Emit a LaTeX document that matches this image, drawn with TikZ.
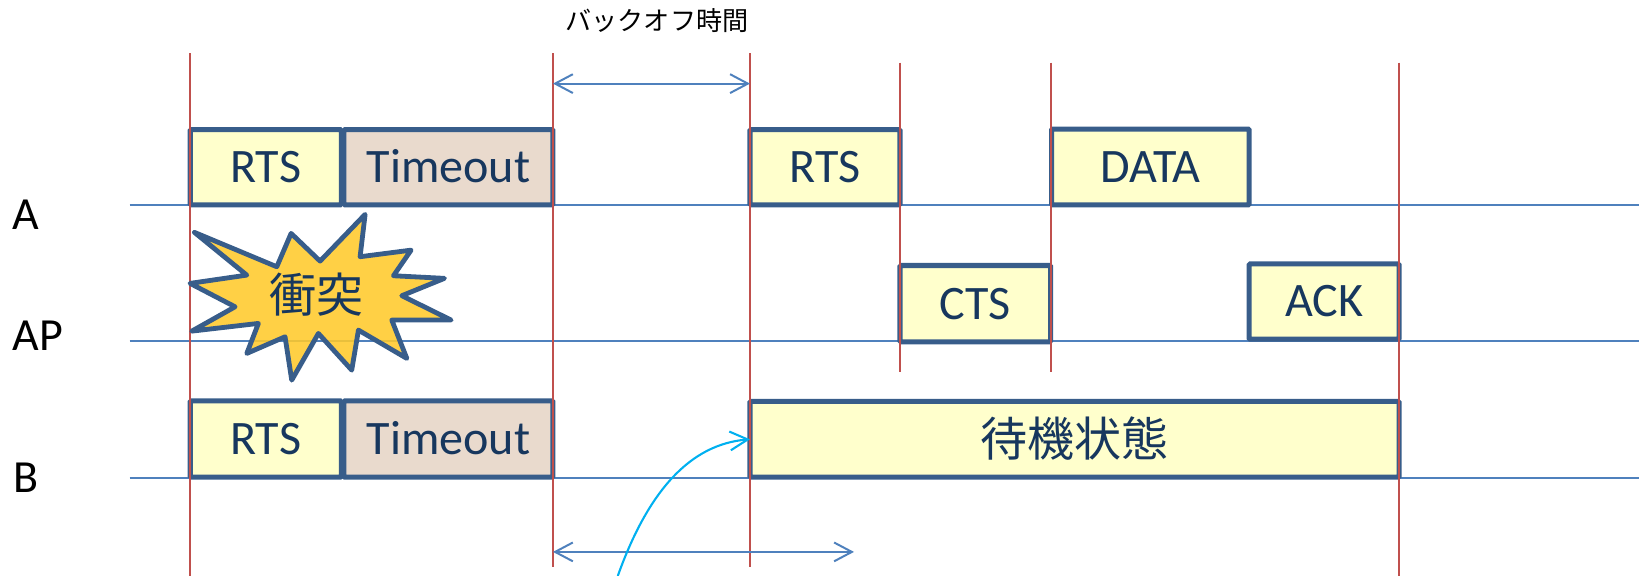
\documentclass[tikz,border=0pt]{standalone}
\usepackage{fontspec}
\setmainfont{Carlito}
\newfontfamily\jpfont{Noto Sans CJK JP}
\usetikzlibrary{arrows.meta}
\definecolor{vred}{HTML}{C0504D}
\definecolor{tblue}{HTML}{4F81BD}
\definecolor{boxblue}{HTML}{385D8A}
\definecolor{textnavy}{HTML}{17375E}
\definecolor{paleyellow}{HTML}{FFFFCC}
\definecolor{paletan}{HTML}{E9DACD}
\definecolor{stargold}{HTML}{FFC92B}
\definecolor{curvecyan}{HTML}{00B0F0}
\begin{document}
\begin{tikzpicture}[x=1pt,y=-1pt,
  redline/.style={draw=vred, line width=1.8pt},
  tline/.style={draw=tblue, line width=1.9pt},
  lbl/.style={anchor=west, inner sep=0pt, text=black, font=\fontsize{44}{48}\selectfont},
  box/.style={draw=boxblue, line width=4.8pt, rounded corners=1pt, text=textnavy,
    font=\fontsize{46}{50}\selectfont, inner sep=0pt, outer sep=0pt,
    text height=29.5pt, text depth=0pt, anchor=north west},
  ybox/.style={box, fill=paleyellow},
  tbox/.style={box, fill=paletan},
  starshape/.style={draw=boxblue, line width=4.6pt, line join=round, fill=stargold, fill opacity=0.88},
  jptext/.style={inner sep=0pt, text=textnavy, font=\jpfont\fontsize{45}{50}\selectfont},
  dbl/.style={draw=tblue, line width=1.9pt,
    {Straight Barb[length=17pt,width=18pt]}-{Straight Barb[length=17pt,width=18pt]}},
  curved/.style={draw=curvecyan, line width=2pt, -{Straight Barb[length=17pt,width=18pt]}}
]
\useasboundingbox (0,0) rectangle (1568,551);

% timelines
\coordinate (As) at (124,196);   \coordinate (Ae) at (1568,196);
\coordinate (APs) at (124,326);  \coordinate (APe) at (1568,326);
\coordinate (Bs) at (124,457);   \coordinate (Be) at (1568,457);
\draw[tline] (As) -- (Ae);
\draw[tline] (APs) -- (APe);
\draw[tline] (Bs) -- (Be);

% labels
\node[lbl] (lA) at (12,205) {A};
\node[lbl] (lAP) at (12,321.5) {AP};
\node[lbl] (lB) at (13,457) {B};

% boxes row A
\node[ybox, minimum width=144.5pt, minimum height=72pt] (aRTS) at (182,124) {RTS};
\node[tbox, minimum width=200pt, minimum height=72pt] (aTO) at (329,124) {Timeout};
\node[ybox, minimum width=143.5pt, minimum height=72pt] (aRTS2) at (717.5,124) {RTS};
\node[ybox, minimum width=189pt, minimum height=72.5pt] (aDATA) at (1006,123.5) {DATA};
% row AP
\node[ybox, minimum width=144pt, minimum height=73pt] (apCTS) at (861,254) {CTS};
\node[ybox, minimum width=143.5pt, minimum height=72pt] (apACK) at (1195,252.5) {ACK};
% row B
\node[ybox, minimum width=144.5pt, minimum height=73pt] (bRTS) at (182,383.5) {RTS};
\node[tbox, minimum width=200pt, minimum height=73pt] (bTO) at (329,383.5) {Timeout};
\node[ybox, minimum width=621pt, minimum height=72.5pt, text height=33pt,
  font=\jpfont\fontsize{45}{50}\selectfont] (bWait) at (717.5,384) {待機状態};

% red vertical lines
\coordinate (r1t) at (182,51);    \coordinate (r1b) at (182,551);
\coordinate (r2t) at (529,51);    \coordinate (r2b) at (529,542);
\coordinate (r3t) at (717.5,51);  \coordinate (r3b) at (717.5,542);
\coordinate (r4t) at (861,60);    \coordinate (r4b) at (861,356);
\coordinate (r5t) at (1005.5,60); \coordinate (r5b) at (1005.5,356);
\coordinate (r6t) at (1338.5,60); \coordinate (r6b) at (1338.5,551);
\draw[redline] (r1t) -- (r1b);
\draw[redline] (r2t) -- (r2b);
\draw[redline] (r3t) -- (r3b);
\draw[redline] (r4t) -- (r4b);
\draw[redline] (r5t) -- (r5b);
\draw[redline] (r6t) -- (r6b);

% collision star
\draw[starshape] (186.0,222.3) -- (264.8,255.2) -- (278.5,223.3) -- (306.2,249.8)
  -- (349.3,205.1) -- (344.5,245.6) -- (393.3,239.3) -- (376.4,263.8)
  -- (425.2,266.3) -- (384.4,282.9) -- (431.6,306.2) -- (374.8,306.2)
  -- (389.2,342.9) -- (342.9,315.8) -- (336.5,354.1) -- (304.6,319.0)
  -- (279.1,363.7) -- (272.7,322.2) -- (236.1,338.1) -- (247.2,309.4)
  -- (183.4,316.8) -- (224.9,293.5) -- (181.8,271.1) -- (236.1,263.2) -- cycle;
\node[jptext] (clash) at (303,282) {衝突};

% backoff label and arrows
\node[inner sep=0pt, text=black, font=\jpfont\fontsize{25}{28}\selectfont] (boff) at (628.5,20) {バックオフ時間};
\coordinate (ta1) at (529,80);  \coordinate (ta2) at (717.5,80);
\draw[dbl] (ta1) -- (ta2);
\coordinate (ba1) at (529,528); \coordinate (ba2) at (817,528);
\draw[dbl] (ba1) -- (ba2);

% cyan curved arrow
\coordinate (cs) at (591,551);
\draw[curved] (cs) .. controls (620,470) and (660,425) .. (bWait.west);
\end{tikzpicture}
\end{document}
